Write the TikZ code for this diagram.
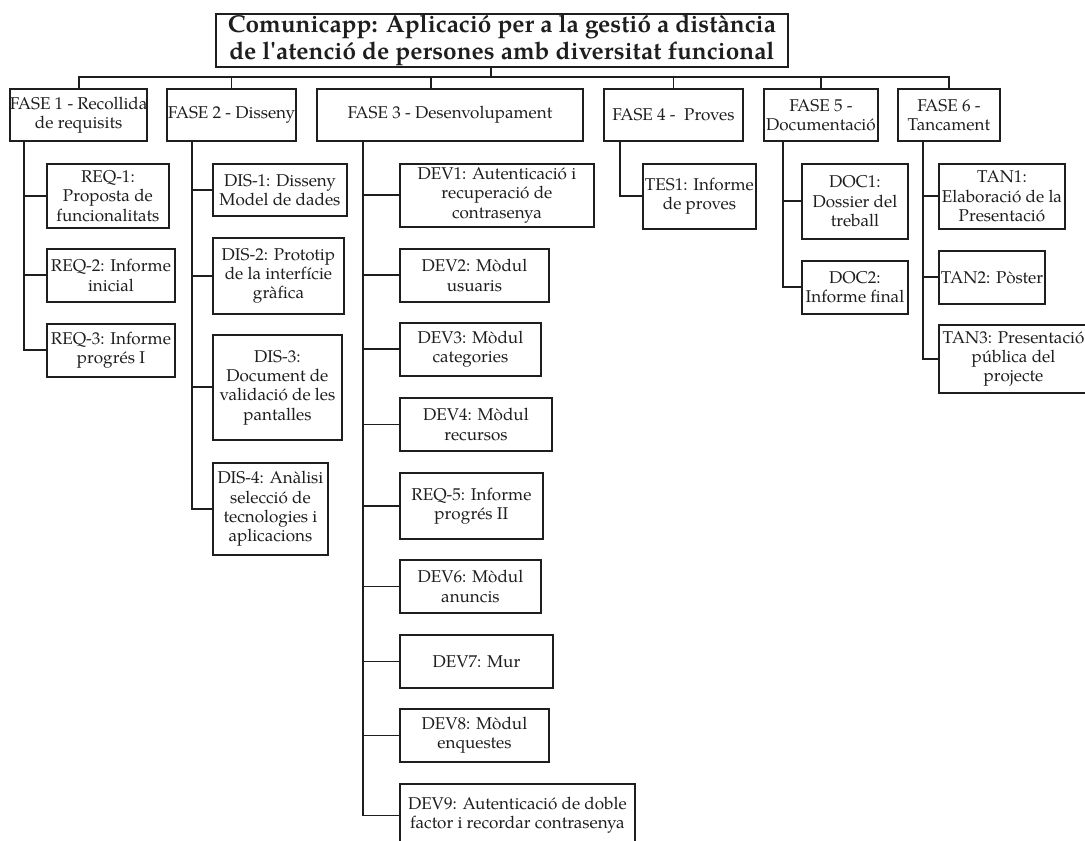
\documentclass[tikz,border=0pt]{standalone}
\usepackage{fontspec}
\setmainfont{texgyrepagella}[Extension=.otf, UprightFont=*-regular, BoldFont=*-bold, ItalicFont=*-italic, BoldItalicFont=*-bolditalic]
\definecolor{ink}{HTML}{1E1E1E}
\newcommand{\sq}{{\addfontfeatures{Ligatures=TeXOff}'}}
\tikzset{
  box/.style={draw=ink, text=ink, line width=1.4pt, inner sep=0pt, align=center, anchor=north west,
    font=\fontsize{12.8}{14.5}\selectfont},
  titlebox/.style={box, font=\fontsize{18.3}{20.5}\selectfont\bfseries},
  conn/.style={draw=ink, line width=1.4pt, line cap=rect}
}
\begin{document}
\begin{tikzpicture}[x=0.75pt,y=-0.75pt]
\clip (0,0) rectangle (1085,841);
\fill[white] (0,0) rectangle (1085,841);
% title
\node[titlebox, minimum width=572*0.75pt, minimum height=53*0.75pt] (title) at (215,13)
  {Comunicapp: Aplicació per a la gestió a distància\\de l\sq atenció de persones amb diversitat funcional};
% phases
\node[box, minimum width=137*0.75pt, minimum height=52*0.75pt] (f1) at (9,88) {FASE 1 - Recollida\\de requisits};
\node[box, minimum width=129*0.75pt, minimum height=52*0.75pt] (f2) at (166,88) {FASE 2 - Disseny};
\node[box, minimum width=266*0.75pt, minimum height=52*0.75pt] (f3) at (316,88) {FASE 3 - Desenvolupament};
\node[box, minimum width=139*0.75pt, minimum height=52*0.75pt] (f4) at (603,88) {FASE 4 -\ \ Proves};
\node[box, minimum width=114*0.75pt, minimum height=52*0.75pt] (f5) at (763,88) {FASE 5 -\\Documentació};
\node[box, minimum width=102*0.75pt, minimum height=52*0.75pt] (f6) at (897,88) {FASE 6 -\\Tancament};
% phase 1
\node[box, minimum width=122*0.75pt, minimum height=64*0.75pt] (r1) at (46,163) {REQ-1:\\Proposta de\\funcionalitats};
\node[box, minimum width=128*0.75pt, minimum height=53*0.75pt] (r2) at (46,248) {REQ-2: Informe\\inicial};
\node[box, minimum width=128*0.75pt, minimum height=53*0.75pt] (r3) at (46,323) {REQ-3: Informe\\progrés I};
% phase 2
\node[box, minimum width=134*0.75pt, minimum height=52*0.75pt] (d1) at (212,163) {DIS-1: Disseny\\Model de dades};
\node[box, minimum width=131*0.75pt, minimum height=76*0.75pt] (d2) at (212,237) {DIS-2: Prototip\\de la interfície\\gràfica};
\node[box, minimum width=129*0.75pt, minimum height=105*0.75pt] (d3) at (212,334) {DIS-3:\\Document de\\validació de les\\pantalles};
\node[box, minimum width=115*0.75pt, minimum height=92*0.75pt] (d4) at (212,462) {DIS-4: Anàlisi\\selecció de\\tecnologies i\\aplicacions};
% phase 3
\node[box, minimum width=194*0.75pt, minimum height=63*0.75pt] (v1) at (399,163) {DEV1: Autenticació i\\recuperació de\\contrasenya};
\node[box, minimum width=149*0.75pt, minimum height=53*0.75pt] (v2) at (399,248) {DEV2: Mòdul\\usuaris};
\node[box, minimum width=141*0.75pt, minimum height=53*0.75pt] (v3) at (399,322) {DEV3: Mòdul\\categories};
\node[box, minimum width=152*0.75pt, minimum height=53*0.75pt] (v4) at (399,397) {DEV4: Mòdul\\recursos};
\node[box, minimum width=143*0.75pt, minimum height=66*0.75pt] (v5) at (399,472) {REQ-5: Informe\\progrés II};
\node[box, minimum width=141*0.75pt, minimum height=53*0.75pt] (v6) at (399,559) {DEV6: Mòdul\\anuncis};
\node[box, minimum width=153*0.75pt, minimum height=53*0.75pt] (v7) at (399,634) {DEV7: Mur};
\node[box, minimum width=149*0.75pt, minimum height=53*0.75pt] (v8) at (399,708) {DEV8: Mòdul\\enquestes};
\node[box, minimum width=235*0.75pt, minimum height=63*0.75pt] (v9) at (399,783) {DEV9: Autenticació de doble\\factor i recordar contrasenya};
% phase 4
\node[box, minimum width=113*0.75pt, minimum height=65*0.75pt] (t1) at (642,163) {TES1: Informe\\de proves};
% phase 5
\node[box, minimum width=106*0.75pt, minimum height=75*0.75pt] (o1) at (801,163) {DOC1:\\Dossier del\\treball};
\node[box, minimum width=106*0.75pt, minimum height=53*0.75pt] (o2) at (801,260) {DOC2:\\Informe final};
% phase 6
\node[box, minimum width=126*0.75pt, minimum height=65*0.75pt] (n1) at (938,163) {TAN1:\\Elaboració de la\\Presentació};
\node[box, minimum width=106*0.75pt, minimum height=53*0.75pt] (n2) at (938,250) {TAN2: Pòster};
\node[box, minimum width=149*0.75pt, minimum height=68*0.75pt] (n3) at (938,324) {TAN3: Presentació\\pública del\\projecte};
% coordinates
\coordinate (bus) at (0,77);
\coordinate (s1) at (24,0);
\coordinate (s2) at (192,0);
\coordinate (s3) at (363,0);
\coordinate (s4) at (620,0);
\coordinate (s5) at (783,0);
\coordinate (s6) at (923,0);
% top connectors
\draw[conn] ([xshift=-8.25pt]title.south) -- ([xshift=-8.25pt]title.south |- bus);
\draw[conn] (f1.north) -- (f1.north |- bus) -- (f6.north |- bus) -- (f6.north);
\draw[conn] (f2.north) -- (f2.north |- bus);
\draw[conn] ([xshift=-14.25pt]f3.north) -- ([xshift=-14.25pt]f3.north |- bus);
\draw[conn] (f4.north) -- (f4.north |- bus);
\draw[conn] (f5.north) -- (f5.north |- bus);
% phase 1 spine
\draw[conn] (f1.south -| s1) |- (r3.west);
\foreach \c in {r1,r2} \draw[conn] (\c.west) -- (\c.west -| s1);
% phase 2 spine
\draw[conn] (f2.south -| s2) |- (d4.west);
\foreach \c in {d1,d2,d3} \draw[conn] (\c.west) -- (\c.west -| s2);
% phase 3 spine
\draw[conn] (f3.south -| s3) |- (v9.west);
\foreach \c in {v1,v2,v3,v4,v5,v6,v7,v8} \draw[conn] (\c.west) -- (\c.west -| s3);
% phase 4
\draw[conn] (f4.south -| s4) |- (t1.west);
% phase 5
\draw[conn] (f5.south -| s5) |- (o2.west);
\draw[conn] (o1.west) -- (o1.west -| s5);
% phase 6
\draw[conn] (f6.south -| s6) |- (n3.west);
\foreach \c in {n1,n2} \draw[conn] (\c.west) -- (\c.west -| s6);
\end{tikzpicture}
\end{document}
